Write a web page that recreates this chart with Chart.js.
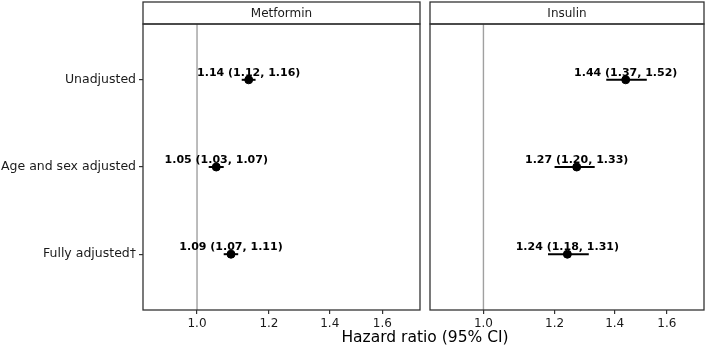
<!DOCTYPE html>
<html>
<head>
<meta charset="utf-8">
<script src="https://cdn.jsdelivr.net/npm/chart.js@4/dist/chart.umd.min.js"></script>
<style>
  body { margin: 0; background: #fff; }
  #wrap { position: relative; width: 709px; height: 347px; font-family: "DejaVu Sans", sans-serif; }
  canvas { position: absolute; top: 0; }
  #xtitle { position: absolute; left: 0; width: 850px; top: 328px; text-align: center; font-size: 15.5px; color: #000; }
</style>
</head>
<body>
<div id="wrap">
  <canvas id="left" width="425" height="347" style="left:0"></canvas>
  <canvas id="right" width="284" height="347" style="left:425px"></canvas>
  <div id="xtitle">Hazard ratio (95% CI)</div>
</div>
<script>
// datos
const modelos = ["Unadjusted", "Age and sex adjusted", "Fully adjusted\u2020"];
const paneles = ["Metformin", "Insulin"];
const hrMetformin = [1.14, 1.05, 1.09];
const lowMetformin = [1.12, 1.03, 1.07];
const highMetformin = [1.16, 1.07, 1.11];
const hrInsulin = [1.44, 1.27, 1.24];
const lowInsulin = [1.37, 1.20, 1.18];
const highInsulin = [1.52, 1.33, 1.31];
const xTicks = [1.0, 1.2, 1.4, 1.6];
const lineaRef = 1.0;

const fmt = (v) => v.toFixed(2);

// plugin para tira, marco, linea de referencia, IC y etiquetas
const forestPlugin = {
  id: "forest",
  beforeDatasetsDraw(chart, args, opts) {
    const ctx = chart.ctx;
    const a = chart.chartArea;
    const x = chart.scales.x.getPixelForValue(lineaRef);
    ctx.save();
    ctx.strokeStyle = "#a0a0a0";
    ctx.lineWidth = 1.4;
    ctx.beginPath();
    ctx.moveTo(x, a.top);
    ctx.lineTo(x, a.bottom);
    ctx.stroke();
    // intervalos de confianza
    ctx.strokeStyle = "#000";
    ctx.lineWidth = 2;
    opts.low.forEach((lo, i) => {
      const y = chart.scales.y.getPixelForValue(i + 1);
      ctx.beginPath();
      ctx.moveTo(chart.scales.x.getPixelForValue(lo), y);
      ctx.lineTo(chart.scales.x.getPixelForValue(opts.high[i]), y);
      ctx.stroke();
    });
    ctx.restore();
  },
  afterDatasetsDraw(chart, args, opts) {
    const ctx = chart.ctx;
    ctx.save();
    ctx.fillStyle = "#000";
    ctx.font = 'bold 11px "DejaVu Sans"';
    ctx.textAlign = "center";
    ctx.textBaseline = "alphabetic";
    opts.hr.forEach((hr, i) => {
      const px = chart.scales.x.getPixelForValue(hr);
      const py = chart.scales.y.getPixelForValue(i + 1);
      const txt = fmt(hr) + " (" + fmt(opts.low[i]) + ", " + fmt(opts.high[i]) + ")";
      ctx.fillText(txt, px, py - 4);
    });
    ctx.restore();
  },
  afterDraw(chart, args, opts) {
    const ctx = chart.ctx;
    const a = chart.chartArea;
    ctx.save();
    ctx.strokeStyle = "#333";
    ctx.lineWidth = 1.3;
    ctx.strokeRect(a.left, 2, a.right - a.left, a.top - 2);
    ctx.strokeRect(a.left, a.top, a.right - a.left, a.bottom - a.top);
    ctx.fillStyle = "#1a1a1a";
    ctx.font = '12px "DejaVu Sans"';
    ctx.textAlign = "center";
    ctx.textBaseline = "middle";
    ctx.fillText(opts.titulo, (a.left + a.right) / 2, (2 + a.top) / 2 + 1);
    ctx.restore();
  }
};

function crearPanel(id, titulo, hr, low, high, conEjeY, padding) {
  const puntos = hr.map((v, i) => ({ x: v, y: i + 1 }));
  return new Chart(document.getElementById(id), {
    type: "scatter",
    data: {
      datasets: [{
        data: puntos,
        backgroundColor: "#000",
        borderColor: "#000",
        pointRadius: 4,
        pointHoverRadius: 4
      }]
    },
    options: {
      responsive: false,
      animation: false,
      devicePixelRatio: 1,
      layout: { padding: padding },
      plugins: {
        legend: { display: false },
        tooltip: { enabled: false },
        forest: { titulo: titulo, hr: hr, low: low, high: high }
      },
      scales: {
        x: {
          type: "logarithmic",
          min: 0.872,
          max: 1.76,
          afterBuildTicks: (s) => { s.ticks = xTicks.map((v) => ({ value: v })); },
          afterFit: (s) => { s.height = 37; },
          ticks: {
            callback: (v) => Number(v).toFixed(1),
            color: "#1a1a1a",
            font: { family: "DejaVu Sans", size: 12 },
            padding: 3,
            maxRotation: 0
          },
          grid: { drawOnChartArea: false, tickLength: 4, color: "#333", lineWidth: 1.2 },
          border: { display: false }
        },
        y: {
          type: "linear",
          display: conEjeY,
          reverse: true,
          min: 0.36,
          max: 3.64,
          afterBuildTicks: (s) => { s.ticks = modelos.map((m, i) => ({ value: i + 1 })); },
          afterFit: (s) => { s.width = conEjeY ? 143 : 0; },
          ticks: {
            callback: (v) => modelos[v - 1],
            color: "#1a1a1a",
            font: { family: "DejaVu Sans", size: 12.5 },
            padding: 3
          },
          grid: { drawOnChartArea: false, tickLength: 4, color: "#333", lineWidth: 1.2 },
          border: { display: false }
        }
      }
    },
    plugins: [forestPlugin]
  });
}

crearPanel("left", paneles[0], hrMetformin, lowMetformin, highMetformin, true,
  { top: 24, right: 4, bottom: 0, left: 0 });
crearPanel("right", paneles[1], hrInsulin, lowInsulin, highInsulin, false,
  { top: 24, right: 2, bottom: 0, left: 4 });
</script>
</body>
</html>
